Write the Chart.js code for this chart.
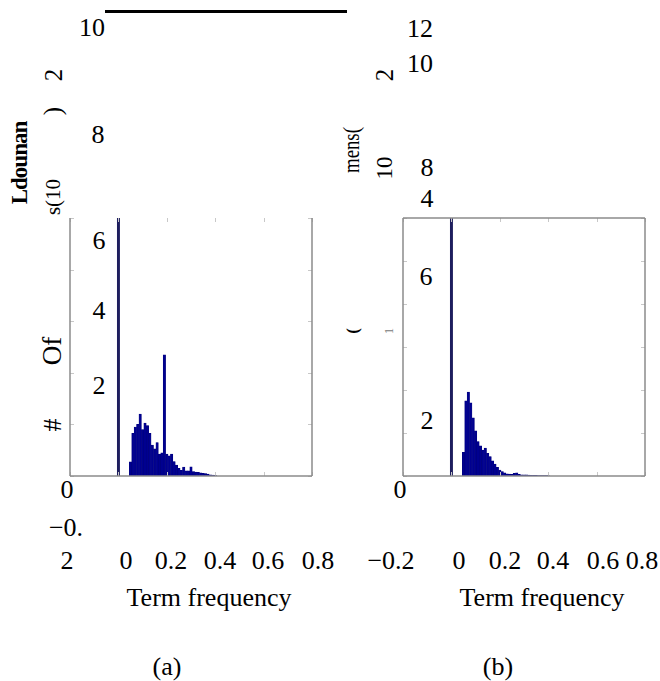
<!DOCTYPE html>
<html>
<head>
<meta charset="utf-8">
<script src="https://cdn.jsdelivr.net/npm/chart.js@4/dist/chart.umd.min.js"></script>
<style>
  html,body{margin:0;padding:0;background:#fff;}
  #wrap{position:relative;width:660px;height:681px;overflow:hidden;background:#fff;font-family:"Liberation Serif","DejaVu Serif",serif;color:#000;}
  .t{position:absolute;white-space:nowrap;transform:translate(-50%,-50%);font-size:26px;line-height:1;}
  .r{transform:translate(-50%,-50%) rotate(-90deg);}
  .cv{position:absolute;}
  #topline{position:absolute;left:105px;top:10px;width:242px;height:3px;background:#000;}
</style>
</head>
<body>
<div id="wrap">
  <div id="topline"></div>

  <!-- panel (a) texts -->
  <span class="t" style="left:92px;top:28px;">10</span>
  <span class="t r" style="left:53px;top:75px;font-size:25px;">2</span>
  <span class="t r" style="left:52px;top:111px;font-size:25px;">)</span>
  <span class="t" style="left:98px;top:135px;">8</span>
  <span class="t r" style="left:19px;top:163px;font-size:23px;font-weight:bold;letter-spacing:-1px;">Ldounan</span>
  <span class="t r" style="left:53px;top:197px;font-size:21px;">s(10</span>
  <span class="t" style="left:99px;top:241px;">6</span>
  <span class="t" style="left:99px;top:311px;">4</span>
  <span class="t r" style="left:52px;top:351px;font-size:27px;">Of</span>
  <span class="t" style="left:99px;top:386px;">2</span>
  <span class="t r" style="left:53px;top:425px;font-size:26px;">#</span>
  <span class="t" style="left:67px;top:490px;">0</span>
  <span class="t" style="left:66px;top:528px;">&minus;0.</span>
  <span class="t" style="left:67px;top:561px;">2</span>
  <span class="t" style="left:126px;top:561px;">0</span>
  <span class="t" style="left:171px;top:561px;">0.2</span>
  <span class="t" style="left:220px;top:561px;">0.4</span>
  <span class="t" style="left:268px;top:561px;">0.6</span>
  <span class="t" style="left:318px;top:561px;">0.8</span>
  <span class="t" style="left:209px;top:598px;">Term frequency</span>
  <span class="t" style="left:167px;top:667px;">(a)</span>

  <!-- panel (b) texts -->
  <span class="t" style="left:420px;top:29px;">12</span>
  <span class="t" style="left:420px;top:64px;">10</span>
  <span class="t r" style="left:384px;top:75px;font-size:25px;">2</span>
  <span class="t" style="left:351px;top:150px;font-size:24px;transform:translate(-50%,-50%) rotate(-90deg) scaleX(0.78);">mens(</span>
  <span class="t r" style="left:384px;top:168px;font-size:23px;">10</span>
  <span class="t" style="left:427px;top:168px;">8</span>
  <span class="t" style="left:427px;top:199px;">4</span>
  <span class="t" style="left:426px;top:277px;">6</span>
  <span class="t r" style="left:352px;top:331px;font-size:17px;font-weight:bold;">(</span>
  <span class="t r" style="left:389px;top:331px;font-size:12px;color:#777;">1</span>
  <span class="t" style="left:427px;top:421px;">2</span>
  <span class="t" style="left:400px;top:490px;">0</span>
  <span class="t" style="left:391px;top:561px;">&minus;0.2</span>
  <span class="t" style="left:459px;top:561px;">0</span>
  <span class="t" style="left:505px;top:561px;">0.2</span>
  <span class="t" style="left:553px;top:561px;">0.4</span>
  <span class="t" style="left:603px;top:561px;">0.6</span>
  <span class="t" style="left:642px;top:561px;">0.8</span>
  <span class="t" style="left:542px;top:598px;">Term frequency</span>
  <span class="t" style="left:498px;top:667px;">(b)</span>

  <canvas id="ca" class="cv" width="244" height="260" style="left:69px;top:217px;"></canvas>
  <canvas id="cb" class="cv" width="244" height="260" style="left:402px;top:217px;"></canvas>
</div>
<script>
// ---- data (counts in units of 10^2 documents) ----
const termFreqA = [0, 0.05, 0.06, 0.07, 0.08, 0.09, 0.10, 0.11, 0.12, 0.13, 0.14, 0.15, 0.16, 0.17, 0.18, 0.19, 0.20, 0.21, 0.22, 0.23, 0.24, 0.25, 0.26, 0.27, 0.28, 0.29, 0.30, 0.31, 0.32, 0.33, 0.34, 0.35, 0.36, 0.37, 0.38, 0.39, 0.40];
const docCountA = [25, 0.55, 1.65, 1.9, 2.0, 2.4, 1.8, 2.05, 1.95, 1.65, 1.2, 1.05, 1.3, 0.85, 0.9, 4.7, 0.85, 0.78, 0.85, 0.56, 0.42, 0.3, 0.22, 0.35, 0.2, 0.2, 0.36, 0.17, 0.15, 0.14, 0.12, 0.1, 0.09, 0.07, 0.05, 0.04, 0.03];
const termFreqB = [0, 0.05, 0.06, 0.07, 0.08, 0.09, 0.10, 0.11, 0.12, 0.13, 0.14, 0.15, 0.16, 0.17, 0.18, 0.19, 0.20, 0.21, 0.22, 0.23, 0.24, 0.25, 0.26, 0.27, 0.28, 0.29, 0.30, 0.31, 0.32, 0.33, 0.34, 0.35, 0.36, 0.37, 0.38, 0.39, 0.40];
const docCountB = [30, 1.1, 3.5, 3.9, 3.4, 2.7, 2.1, 1.6, 1.4, 1.2, 1.3, 1.05, 0.9, 0.7, 0.55, 0.4, 0.28, 0.2, 0.15, 0.1, 0.09, 0.08, 0.12, 0.15, 0.08, 0.06, 0.05, 0.05, 0.04, 0.03, 0.03, 0.03, 0.02, 0.02, 0.02, 0.02, 0.02];
const xTicks = [-0.2, 0, 0.2, 0.4, 0.6, 0.8];
const yTicksA = [0, 2, 4, 6, 8, 10];
const yTicksB = [0, 2, 4, 6, 8, 10, 12];

const framePlugin = {
  id: 'frame',
  afterDraw(chart, args, opts) {
    const {ctx, chartArea: a, scales} = chart;
    ctx.save();
    ctx.strokeStyle = '#c8c8c8';
    ctx.lineWidth = 1;
    ctx.beginPath();
    (opts.xt || []).forEach(v => {
      const px = Math.round(scales.x.getPixelForValue(v)) + 0.5;
      ctx.moveTo(px, a.top); ctx.lineTo(px, a.top + 4);
      ctx.moveTo(px, a.bottom); ctx.lineTo(px, a.bottom - 4);
    });
    (opts.yt || []).forEach(v => {
      const py = Math.round(scales.y.getPixelForValue(v)) + 0.5;
      ctx.moveTo(a.left, py); ctx.lineTo(a.left + 4, py);
      ctx.moveTo(a.right, py); ctx.lineTo(a.right - 4, py);
    });
    ctx.stroke();
    ctx.strokeStyle = '#8c8c8c';
    ctx.lineWidth = 1.5;
    ctx.beginPath();
    ctx.moveTo(a.left, a.bottom); ctx.lineTo(a.right, a.bottom);
    ctx.moveTo(a.left, a.top); ctx.lineTo(a.left, a.bottom);
    ctx.moveTo(a.right, a.top); ctx.lineTo(a.right, a.bottom);
    if (opts.top) { ctx.moveTo(a.left, a.top); ctx.lineTo(a.right, a.top); }
    ctx.stroke();
    ctx.restore();
  }
};

function makeHist(id, xs, ys, ymax, yt, top) {
  const pts = xs.map((x, i) => ({x: x, y: ys[i]}));
  return new Chart(document.getElementById(id), {
    type: 'bar',
    data: { datasets: [{
      data: pts,
      backgroundColor: xs.map(x => x === 0 ? '#1e1e5e' : '#000090'),
      borderColor: xs.map(x => x === 0 ? '#1e1e5e' : '#000078'),
      borderWidth: 0.5,
      barPercentage: 1,
      categoryPercentage: 1
    }]},
    options: {
      responsive: false,
      animation: false,
      events: [],
      layout: { padding: 1 },
      plugins: { legend: {display: false}, tooltip: {enabled: false},
                 frame: { xt: xTicks, yt: yt, top: top } },
      scales: {
        x: { type: 'linear', min: -0.2, max: 0.8, offset: false, display: false },
        y: { type: 'linear', min: 0, max: ymax, display: false }
      }
    },
    plugins: [framePlugin]
  });
}
makeHist('ca', termFreqA, docCountA, 10, yTicksA, false);
makeHist('cb', termFreqB, docCountB, 12, yTicksB, true);
</script>
</body>
</html>
